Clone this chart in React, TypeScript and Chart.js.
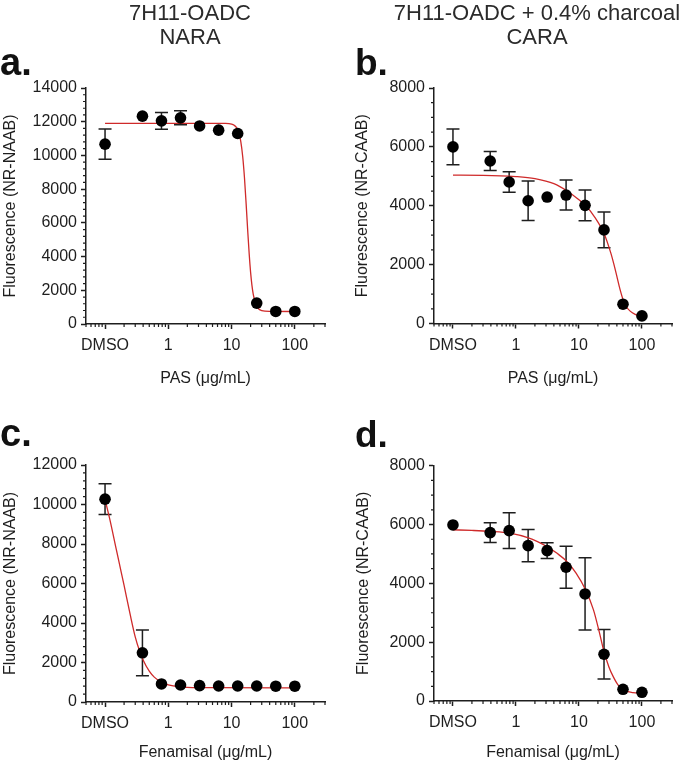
import React, { useEffect, useRef } from 'react';
import { Chart, registerables } from 'chart.js';

Chart.register(...registerables);

const FONT = "'Liberation Sans', Arial, Helvetica, sans-serif";
const INK = '#1e1e1e';
const RED = '#cf2a2a';

// ---- shared x data (DMSO plotted at 0.1) ----
const concentrations = [0.1, 0.39, 0.78, 1.56, 3.125, 6.25, 12.5, 25, 50, 100];
const xTickValues = [0.1, 1, 10, 100];
const xTickLabels = ['DMSO', '1', '10', '100'];

// ---- panel a: PAS, NARA ----
const aMean = [10670, 12330, 12050, 12230, 11750, 11500, 11300, 1240, 745, 745];
const aErr = [900, 0, 490, 415, 0, 0, 0, 0, 0, 0];
const aCurveX = [0.1, 1, 5, 8, 10, 11, 12, 13, 14, 15, 16, 17, 18, 19, 20, 21, 22, 24, 26, 30, 40, 100];
const aCurveY = [11900, 11900, 11900, 11896, 11859, 11790, 11648, 11357, 10820, 9933, 8672, 7125, 5538, 4148, 3065, 2292, 1768, 1196, 948, 791, 745, 740];

// ---- panel b: PAS, CARA ----
const bMean = [6000, 5520, 4806, 4170, 4296, 4364, 4014, 3180, 656, 259];
const bErr = [605, 325, 350, 670, 0, 510, 520, 607, 0, 0];
const bCurveX = [0.1, 0.3, 1, 2, 4, 6.5, 10, 12.6, 18, 25, 32, 36, 40, 45, 50, 57, 65, 78, 100];
const bCurveY = [5040, 5035, 4990, 4920, 4750, 4500, 4200, 4020, 3600, 3060, 2400, 2000, 1600, 1150, 820, 560, 420, 310, 230];

// ---- panel c: Fenamisal, NARA ----
const cMean = [10270, 2490, 915, 860, 830, 810, 810, 810, 800, 800];
const cErr = [780, 1160, 0, 0, 0, 0, 0, 0, 0, 0];
const cCurveX = [0.1, 0.12, 0.15, 0.18, 0.2, 0.25, 0.3, 0.35, 0.4, 0.5, 0.6, 0.8, 1, 1.5, 2, 5, 100];
const cCurveY = [10250, 9200, 7750, 6580, 5900, 4420, 3300, 2600, 2130, 1560, 1260, 980, 870, 772, 745, 724, 720];

// ---- panel d: Fenamisal, CARA ----
const dMean = [5986, 5725, 5793, 5282, 5112, 4547, 3640, 1590, 398, 296];
const dErr = [0, 335, 610, 545, 270, 715, 1230, 845, 0, 0];
const dCurveX = [0.1, 0.2, 0.39, 0.8, 1.58, 2.2, 3.1, 4.5, 6.45, 9, 12.6, 17, 21, 24.6, 30, 35, 42, 51, 72, 100];
const dCurveY = [5820, 5800, 5770, 5710, 5550, 5420, 5250, 5020, 4740, 4350, 3800, 3100, 2350, 1735, 1150, 830, 540, 375, 283, 262];

interface PanelSpec {
  key: string;
  letter: string;
  title: string[] | null;
  xTitle: string;
  yTitle: string;
  mean: number[];
  err: number[];
  curveX: number[];
  curveY: number[];
  yMax: number;
  yStep: number;
  yMinor: number;
  x: number;
  y: number;
  w: number;
  h: number;
  area: { left: number; top: number; right: number; bottom: number };
  yTitlePad: number;
  xTitlePad: number;
  letterX: number;
  letterBase: number;
  letterSize: number;
  titleCX: number;
}

const panels: PanelSpec[] = [
  {
    key: 'a', letter: 'a.', title: ['7H11-OADC', 'NARA'],
    xTitle: 'PAS (\u03bcg/mL)', yTitle: 'Fluorescence (NR-NAAB)',
    mean: aMean, err: aErr, curveX: aCurveX, curveY: aCurveY,
    yMax: 14000, yStep: 2000, yMinor: 400,
    x: 0, y: 0, w: 340, h: 390,
    area: { left: 86, top: 88, right: 325, bottom: 324 },
    yTitlePad: 1, xTitlePad: 2, letterX: 0, letterBase: 75, letterSize: 38, titleCX: 190,
  },
  {
    key: 'b', letter: 'b.', title: ['7H11-OADC + 0.4% charcoal', 'CARA'],
    xTitle: 'PAS (\u03bcg/mL)', yTitle: 'Fluorescence (NR-CAAB)',
    mean: bMean, err: bErr, curveX: bCurveX, curveY: bCurveY,
    yMax: 8000, yStep: 2000, yMinor: 500,
    x: 340, y: 0, w: 340, h: 390,
    area: { left: 94, top: 88, right: 332, bottom: 323.5 },
    yTitlePad: 12.5, xTitlePad: 1.6, letterX: 15, letterBase: 75, letterSize: 37, titleCX: 197,
  },
  {
    key: 'c', letter: 'c.', title: null,
    xTitle: 'Fenamisal (\u03bcg/mL)', yTitle: 'Fluorescence (NR-NAAB)',
    mean: cMean, err: cErr, curveX: cCurveX, curveY: cCurveY,
    yMax: 12000, yStep: 2000, yMinor: 400,
    x: 0, y: 380, w: 340, h: 383,
    area: { left: 86, top: 85, right: 325, bottom: 322 },
    yTitlePad: 1, xTitlePad: 0.6, letterX: 0, letterBase: 66, letterSize: 38, titleCX: 190,
  },
  {
    key: 'd', letter: 'd.', title: null,
    xTitle: 'Fenamisal (\u03bcg/mL)', yTitle: 'Fluorescence (NR-CAAB)',
    mean: dMean, err: dErr, curveX: dCurveX, curveY: dCurveY,
    yMax: 8000, yStep: 2000, yMinor: 500,
    x: 340, y: 380, w: 340, h: 383,
    area: { left: 94, top: 85.7, right: 332, bottom: 321 },
    yTitlePad: 13.5, xTitlePad: 0.6, letterX: 15, letterBase: 66.7, letterSize: 37, titleCX: 197,
  },
];

function makeDeco(p: PanelSpec) {
  return {
    id: 'deco_' + p.key,
    beforeDatasetsDraw(chart: any) {
      const ctx = chart.ctx;
      const xs = chart.scales.x;
      const ys = chart.scales.y;
      ctx.save();
      ctx.strokeStyle = INK;
      ctx.lineWidth = 1.5;
      for (let i = 0; i < concentrations.length; i++) {
        const e = p.err[i];
        if (!e) continue;
        const px = xs.getPixelForValue(concentrations[i]);
        const top = ys.getPixelForValue(p.mean[i] + e);
        const bot = ys.getPixelForValue(p.mean[i] - e);
        ctx.beginPath();
        ctx.moveTo(px, top);
        ctx.lineTo(px, bot);
        ctx.moveTo(px - 6.5, top);
        ctx.lineTo(px + 6.5, top);
        ctx.moveTo(px - 6.5, bot);
        ctx.lineTo(px + 6.5, bot);
        ctx.stroke();
      }
      ctx.restore();
    },
    afterDraw(chart: any) {
      const ctx = chart.ctx;
      const xs = chart.scales.x;
      const ys = chart.scales.y;
      const area = chart.chartArea;
      ctx.save();
      ctx.strokeStyle = INK;
      ctx.lineWidth = 1.2;
      ctx.beginPath();
      // minor y ticks
      for (let v = 0; v <= p.yMax; v += p.yMinor) {
        if (v % p.yStep === 0) continue;
        const py = ys.getPixelForValue(v);
        ctx.moveTo(area.left - 3, py);
        ctx.lineTo(area.left, py);
      }
      // minor log x ticks
      for (let e = -2; e <= 2; e++) {
        for (let k = 2; k <= 9; k++) {
          const v = k * Math.pow(10, e);
          if (v < 0.0499 || v > 300.1) continue;
          const px = xs.getPixelForValue(v);
          ctx.moveTo(px, area.bottom);
          ctx.lineTo(px, area.bottom + 3);
        }
      }
      ctx.stroke();
      // panel letter
      ctx.fillStyle = '#111';
      ctx.textAlign = 'left';
      ctx.textBaseline = 'alphabetic';
      ctx.font = `bold ${p.letterSize}px ${FONT}`;
      ctx.fillText(p.letter, p.letterX, p.letterBase);
      // column titles
      if (p.title) {
        ctx.fillStyle = '#2b2b2b';
        ctx.textAlign = 'center';
        ctx.font = `22px ${FONT}`;
        ctx.fillText(p.title[0], p.titleCX, 19.5);
        ctx.fillText(p.title[1], p.titleCX, 43.5);
      }
      ctx.restore();
    },
  };
}

function PanelChart({ p }: { p: PanelSpec }) {
  const ref = useRef<HTMLCanvasElement>(null);
  useEffect(() => {
    if (!ref.current) return;
    const axisFont = { family: FONT, size: 16 };
    const chart = new Chart(ref.current, {
      type: 'scatter',
      data: {
        datasets: [
          {
            type: 'scatter',
            data: concentrations.map((x, i) => ({ x, y: p.mean[i] })),
            pointRadius: 5.8,
            pointHoverRadius: 5.8,
            backgroundColor: '#000',
            borderWidth: 0,
            order: 0,
          } as any,
          {
            type: 'line',
            data: p.curveX.map((x, i) => ({ x, y: p.curveY[i] })),
            borderColor: RED,
            borderWidth: 1.3,
            pointRadius: 0,
            fill: false,
            showLine: true,
            cubicInterpolationMode: 'monotone',
            order: 1,
          } as any,
        ],
      },
      options: {
        animation: false,
        responsive: false,
        events: [],
        layout: { padding: { top: p.area.top, left: 0, right: p.w - p.area.right, bottom: 0 } },
        plugins: { legend: { display: false }, tooltip: { enabled: false }, title: { display: false } },
        scales: {
          x: {
            type: 'logarithmic',
            position: 'bottom',
            min: 0.05,
            max: 300,
            afterBuildTicks: (s: any) => {
              s.ticks = xTickValues.map((v) => ({ value: v }));
            },
            afterFit: (s: any) => {
              s.height = p.h - p.area.bottom;
            },
            ticks: {
              callback: (_v: any, i: number) => xTickLabels[i],
              font: axisFont,
              color: INK,
              padding: 7,
              maxRotation: 0,
              autoSkip: false,
            },
            grid: { display: true, drawOnChartArea: false, drawTicks: true, tickLength: 5, tickWidth: 1.5, tickColor: INK },
            border: { display: true, color: INK, width: 1.5 },
            title: { display: true, text: p.xTitle, font: axisFont, color: INK, padding: { top: 0, bottom: p.xTitlePad } },
          },
          y: {
            type: 'linear',
            min: 0,
            max: p.yMax,
            afterFit: (s: any) => {
              s.width = p.area.left;
            },
            ticks: {
              stepSize: p.yStep,
              callback: (v: any) => String(v),
              font: axisFont,
              color: INK,
              padding: 4,
            },
            grid: { display: true, drawOnChartArea: false, drawTicks: true, tickLength: 5, tickWidth: 1.5, tickColor: INK },
            border: { display: true, color: INK, width: 1.5 },
            title: { display: true, text: p.yTitle, font: axisFont, color: INK, padding: { top: p.yTitlePad, bottom: 0 } },
          },
        },
      } as any,
      plugins: [makeDeco(p)],
    });
    return () => chart.destroy();
  }, [p]);
  return (
    <canvas
      ref={ref}
      width={p.w}
      height={p.h}
      style={{ position: 'absolute', left: p.x, top: p.y, width: p.w, height: p.h, display: 'block' }}
    />
  );
}

export default function App() {
  return (
    <div style={{ position: 'absolute', left: 0, top: 0, width: 680, height: 763, background: '#fff', overflow: 'hidden' }}>
      {panels.map((p) => (
        <PanelChart key={p.key} p={p} />
      ))}
    </div>
  );
}
